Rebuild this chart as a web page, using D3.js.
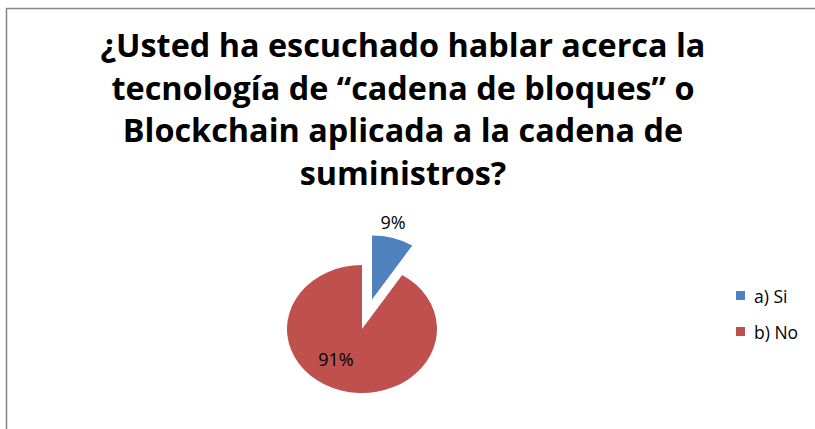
<!DOCTYPE html>
<html>
<head>
<meta charset="utf-8">
<script src="https://cdn.jsdelivr.net/npm/d3@7"></script>
<style>
  body { margin: 0; background: #fff; }
  svg { display: block; }
</style>
</head>
<body>
<div id="chart"></div>
<script>
// data
var categories = ["a) Si", "b) No"];
var values = [9, 91];
var colors = ["#4F81BD", "#C0504D"];
var titleLines = [
    "¿Usted ha escuchado hablar acerca la",
    "tecnología de “cadena de bloques” o",
    "Blockchain aplicada a la cadena de",
    "suministros?"
];

var width = 815, height = 429;

var svg = d3.select("#chart")
    .append("svg")
    .attr("width", width)
    .attr("height", height);

// chart area border (runs off right and bottom)
svg.append("rect")
    .attr("x", 6.5).attr("y", 8.5)
    .attr("width", 900).attr("height", 500)
    .attr("fill", "#fff")
    .attr("stroke", "#868686")
    .attr("stroke-width", 1.5);

// title
var title = svg.append("g")
    .attr("font-family", "'Open Sans', sans-serif")
    .attr("font-weight", "bold")
    .attr("fill", "#000")
    .attr("text-anchor", "middle");
var tl = title.selectAll("text")
    .data(titleLines)
    .enter()
    .append("text")
        .attr("x", 403)
        .attr("y", function(d, i) { return 57 + i * 42.7; })
        .attr("font-size", 30)
        .text(function(d) { return d; });
// fit first line to its width in the picture
var w0 = tl.node().getComputedTextLength();
tl.attr("font-size", 30 * 605 / w0);

// pie
var cx = 362, cy = 329, r = 75, squash = 0.853, explode = 36;
var pie = d3.pie().sort(null).value(function(d) { return d; });
var arcs = pie(values);
var arc = d3.arc().innerRadius(0).outerRadius(r);

var pg = svg.append("g")
    .attr("transform", "translate(" + cx + "," + cy + ") scale(1," + squash + ")");

pg.selectAll("path")
    .data(arcs)
    .enter()
    .append("path")
        .attr("d", arc)
        .attr("transform", function(d, i) {
            if (i !== 0) return null;
            var m = (d.startAngle + d.endAngle) / 2;
            return "translate(" + (Math.sin(m) * explode) + "," + (-Math.cos(m) * explode) + ")";
        })
        .attr("fill", function(d, i) { return colors[i]; });

// percentage labels
var labelPos = [[393, 229], [336, 366]];
svg.selectAll("text.lbl")
    .data(arcs)
    .enter()
    .append("text")
        .attr("class", "lbl")
        .attr("x", function(d, i) { return labelPos[i][0]; })
        .attr("y", function(d, i) { return labelPos[i][1]; })
        .attr("text-anchor", "middle")
        .attr("font-family", "'Open Sans', sans-serif")
        .attr("font-size", 18)
        .attr("fill", "#000")
        .text(function(d) { return d.data + "%"; });

// legend
var legend = svg.append("g").attr("transform", "translate(736,291)");
var li = legend.selectAll("g")
    .data(categories)
    .enter()
    .append("g")
        .attr("transform", function(d, i) { return "translate(0," + (i * 36) + ")"; });
li.append("rect")
    .attr("width", 9).attr("height", 9)
    .attr("fill", function(d, i) { return colors[i]; });
li.append("text")
    .attr("x", 18).attr("y", 11.5)
    .attr("font-family", "'Open Sans', sans-serif")
    .attr("font-size", 17.5)
    .attr("fill", "#000")
    .text(function(d) { return d; });
</script>
</body>
</html>
